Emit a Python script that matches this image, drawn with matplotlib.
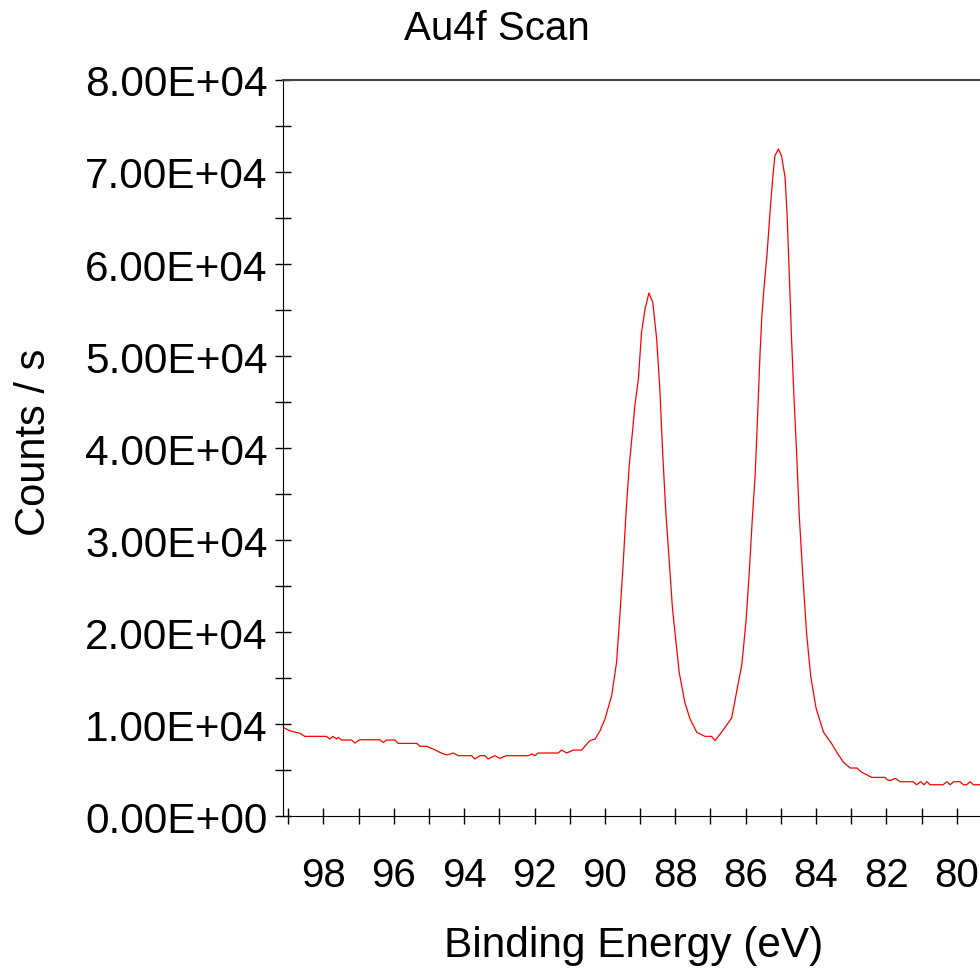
import matplotlib
matplotlib.use("Agg")
import matplotlib.pyplot as plt
from matplotlib.ticker import MultipleLocator, FuncFormatter

plt.rcParams['font.family'] = ['Liberation Sans', 'DejaVu Sans']

# Au4f spectrum (binding energy in eV, counts / s)
binding_energy = [
    99.15, 98.96, 98.67, 98.53, 98.29, 98.02, 97.92, 97.82, 97.73, 97.63,
    97.58, 97.49, 97.20, 97.11, 96.97, 96.40, 96.30, 96.21, 95.97, 95.88,
    95.35, 95.26, 95.07, 94.88, 94.69, 94.50, 94.31, 94.17, 93.79, 93.70,
    93.55, 93.41, 93.32, 93.13, 92.99, 92.80, 92.18, 92.08, 91.99, 91.90,
    91.33, 91.23, 91.09, 90.90, 90.66, 90.57, 90.43, 90.28, 90.14,
    90.00, 89.81, 89.67, 89.57, 89.48, 89.40, 89.31, 89.21, 89.15, 89.05,
    88.96, 88.86, 88.75, 88.64, 88.53, 88.44, 88.36, 88.27, 88.17, 88.08,
    87.98, 87.89, 87.73, 87.58, 87.39, 87.16, 86.97, 86.87,
    86.64, 86.40, 86.26, 86.11, 85.99, 85.90, 85.81, 85.73, 85.66, 85.59,
    85.54, 85.48, 85.39, 85.31, 85.23, 85.17, 85.07, 84.98, 84.88, 84.82,
    84.76, 84.69, 84.63, 84.55, 84.48, 84.38, 84.27, 84.15, 84.00, 83.79,
    83.55, 83.41, 83.22, 83.03, 82.84, 82.70, 82.56, 82.42, 82.04, 81.98,
    81.90, 81.75, 81.61, 81.24, 81.14, 81.03, 80.93, 80.85, 80.76, 80.39,
    80.28, 80.19, 80.09, 79.91, 79.81, 79.72, 79.62, 79.53, 79.34,
]
counts = [
    9640, 9270, 8990, 8660, 8660, 8660, 8660, 8370, 8660, 8370,
    8550, 8260, 8260, 7930, 8290, 8290, 7990, 8260, 8260, 7900,
    7900, 7580, 7580, 7280, 6920, 6630, 6850, 6560, 6560, 6200,
    6560, 6560, 6200, 6560, 6270, 6560, 6560, 6740, 6560, 6850,
    6850, 7170, 6850, 7170, 7170, 7580, 8190, 8370, 9270,
    10540, 13080, 16700, 22140, 27570, 33010, 38080, 42070, 44600, 47500,
    52580, 55110, 56850, 55830, 51850, 46410, 39530, 33010, 27570, 22500,
    18880, 15620, 12360, 10540, 9100, 8660, 8660, 8190,
    9350, 10650, 13430, 16450, 21200, 26350, 32390, 37110, 43590, 50450,
    54350, 57340, 61220, 65540, 69390, 71760, 72500, 71760, 69390, 65110,
    58630, 51300, 45760, 39260, 32830, 26350, 19890, 15150, 11740, 9130,
    7830, 6920, 5840, 5220, 5220, 4750, 4490, 4200, 4200, 3950,
    3840, 4100, 3730, 3730, 3400, 3730, 3400, 3730, 3400, 3400,
    3730, 3400, 3730, 3730, 3400, 3400, 3730, 3400, 3400,
]

fig = plt.figure(figsize=(9.8, 9.7), dpi=100)
ax = fig.add_axes([0.2888, 0.1577, 0.7112, 0.7588])

ax.plot(binding_energy, counts, color='red', linewidth=0.9)

ax.set_xlim(99.15, 79.34)
ax.set_ylim(0, 80000)

ax.xaxis.set_major_locator(MultipleLocator(2))
ax.xaxis.set_minor_locator(MultipleLocator(1))
ax.yaxis.set_major_locator(MultipleLocator(10000))
ax.yaxis.set_minor_locator(MultipleLocator(5000))
ax.yaxis.set_major_formatter(FuncFormatter(lambda v, p: f"{v:.2E}"))
ax.xaxis.set_major_formatter(FuncFormatter(lambda v, p: f"{v:.0f}"))

ax.tick_params(axis='y', which='both', direction='inout', length=12, width=1,
               labelsize=30.5, pad=5)
ax.tick_params(axis='x', which='both', direction='inout', length=12, width=1,
               labelsize=29, pad=23)

ax.spines['right'].set_visible(False)
ax.spines['top'].set_color('#444444')
ax.spines['top'].set_linewidth(1.5)

ax.set_xlabel("Binding Energy (eV)", fontsize=30.5)
ax.set_ylabel("Counts / s", fontsize=30)
ax.xaxis.set_label_coords(0.5036, -0.148)
ax.yaxis.set_label_coords(-0.329, 0.5095)

fig.text(0.507, 0.970, "Au4f Scan", fontsize=29, ha='center', va='center')

plt.savefig("out.png", dpi=100)
